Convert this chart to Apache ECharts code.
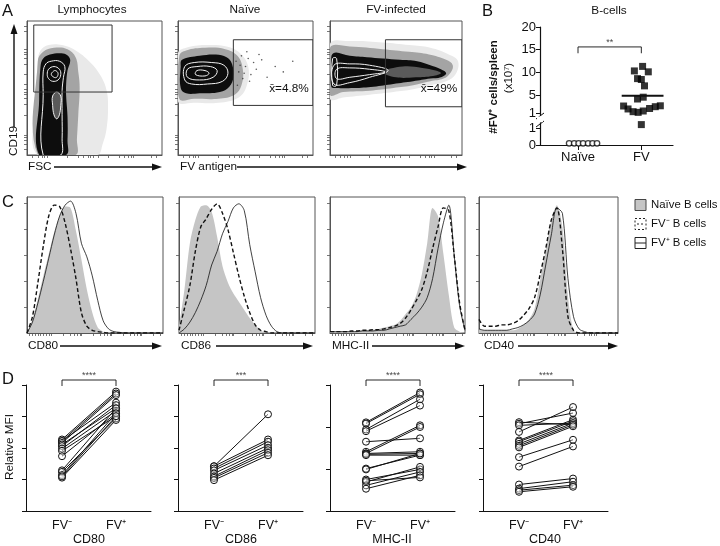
<!DOCTYPE html>
<html><head><meta charset="utf-8">
<script src="https://cdn.jsdelivr.net/npm/echarts@6/dist/echarts.min.js"></script>
<style>html,body{margin:0;padding:0;background:#fff}#c{width:720px;height:546px}</style>
</head><body><div id="c"></div>
<script>
// ================= DATA =================
// ---- Panel A: flow cytometry contour outlines (plot % coordinates) ----
const flowTitles = ['Lymphocytes', 'Naïve', 'FV-infected'];
const gateLabels = ['', 'x\u0304=4.8%', 'x\u0304=49%'];
const gates = [[5, 47, 63, 97], [41, 37, 100, 86], [42, 36, 100, 86]];
const lymSparse = [[8,0],[7,40],[8,70],[10,78],[16,82],[26,82],[36,78],[46,70],[54,60],[59,48],[60,35],[59,20],[56,8],[52,0]];
const lymDense  = [[8,0],[8,70],[12,77],[20,80],[30,79],[36,73],[38,62],[39,50],[38,30],[37,12],[36,0]];
const lymBlack  = [[9,0],[9,41],[10,66],[12,72],[17,75],[24,76],[29,75],[32,71],[30,63],[29,53],[29,44],[30,29],[30,11],[29,0]];
const lymCore   = [[19,37],[19,44],[22,47],[25,44],[25,37],[24,30],[22,27],[20,30]];
const lymLines  = [
  [[12,0],[12,45],[12,62],[14,68],[18,70],[24,70],[28,66],[27,58],[26,48],[26,30],[26,12],[25,0]],
  [[15,60],[16,64],[20,66],[24,64],[25,60],[23,56],[19,55],[16,57]],
  [[18,60],[19,62],[21,63],[23,61],[22,58],[20,58]],
  [[19,37],[19,44],[22,47],[25,44],[25,37],[24,30],[22,27],[20,30]]
];
const naiSparse = [[0,40],[0,76],[6,80],[20,82],[36,81],[46,76],[52,66],[51,52],[45,43],[30,39],[12,39]];
const naiDense  = [[1,42],[1,74],[6,78],[20,80],[35,79],[44,74],[48,64],[47,52],[42,45],[30,42],[12,42]];
const naiBlack  = [[2,50],[2,66],[3,71],[16,74],[28,75],[36,73],[40,68],[41,58],[38,51],[31,47],[16,46],[6,46]];
const naiLines  = [
  [[5,56],[5,66],[12,69],[25,69],[34,67],[37,61],[33,55],[22,53],[10,53]],
  [[7,58],[7,64],[14,66],[24,66],[29,63],[26,58],[16,56]],
  [[13,60],[14,63],[20,63],[23,61],[20,59]]
];
const naiDots = [[43,70],[45,62],[47,74],[48,57],[50,66],[52,72],[54,60],[56,69],[58,64],[62,71],[66,58],[72,66],[78,62],[85,70],[44,52],[46,67],[49,61],[51,77],[53,55],[60,75]];
const fvSparse = [[0,42],[0,83],[15,85],[40,84],[60,82],[76,80],[90,75],[97,70],[95,60],[88,55],[76,52],[63,49],[48,47],[30,45],[10,43]];
const fvDense  = [[0,45],[0,80],[15,81],[40,79],[60,77],[75,75],[88,71],[93,67],[91,61],[86,57],[76,55],[63,52],[48,50],[30,48],[10,47]];
const fvBlack  = [[1,51],[1,66],[2.5,76],[15,74],[28,73],[40,72],[53,71],[66,70],[76,67],[84,64],[88,61],[84,58],[76,57],[63,55],[48,53],[33,51],[18,50],[5,50]];
const fvCore   = [[40,62],[55,66],[70,65],[80,63],[84,61],[78,59],[65,58],[50,58]];
const fvLines  = [
  [[3,53],[3,67],[15,68],[30,67],[44,63],[30,58],[15,54]],
  [[5,57],[5,64],[15,65],[30,64],[42,62],[30,60],[15,58]],
  [[2,52],[2,72],[5,72],[5,52]]
];

// ---- Panel B: FV+ cells per spleen (x10^7) ----
const bCategories = ['Naïve', 'FV'];
const bUpperTicks = [1, 5, 10, 15, 20];
const bLowerTicks = [0, 1];
const naiveX = [-0.14, -0.06, 0.01, 0.08, 0.16, 0.23, 0.30];
const naiveV = [0.1, 0.1, 0.1, 0.1, 0.1, 0.1, 0.1];
const fvX = [-0.11, 0.02, 0.11, -0.06, 0.0, 0.05, -0.06, 0.03, -0.28, -0.21, -0.13, -0.05, 0.03, 0.13, 0.22, 0.30];
const fvV = [10.3, 11.3, 10.1, 8.6, 8.4, 7.0, 4.1, 4.5, 2.55, 1.9, 1.3, 1.15, 1.45, 2.0, 2.4, 2.6];
const fvLowX = [0.0];
const fvLowV = [1.2];
const fvMean = 4.8;
const bSig = '**';

// ---- Panel C: histograms (% of max) ----
const histX = [0,4,8,12,16,20,24,28,32,36,40,44,48,52,56,60,64,68,72,76,80,84,88,92,96,100];
const cNames = ['CD80', 'CD86', 'MHC-II', 'CD40'];
const cNaive = [
  [0,10,25,42,58,74,86,93,92,75,54,32,15,4,1,0,0,0,0,0,0,0,0,0,0,0],
  [5,32,66,83,93,94,89,71,49,37,29,23,17,11,6,2,0,0,0,0,0,0,0,0,0,0],
  [1,1,1,1,1,1.5,2,2,2.5,3,4,5,6,9,14,19,28,43,66,92,86,58,28,4,1,0],
  [3,2,2,2,2,2,2,3,6,10,18,39,61,83,94,78,27,2,0,0,0,0,0,0,0,0]
];
const cFvNeg = [
  [0,12,37,64,86,94,93,81,62,40,15,5,2,1,0.5,0,0,0,0,0,0,0,0,0,0,0],
  [2,18,35,60,78,84,91,95,88,76,59,42,27,15,6,2,1,0,0,0,0,0,0,0,0,0],
  [1,1,1,1,1.5,1.5,2,2,2.5,2.5,3,4,5,7,11,17,24,32,45,62,78,92,90,57,22,2],
  [10,5,5,5,6,6,7,9,13,18,26,43,62,83,92,62,12,2,0,0,0,0,0,0,0,0]
];
const cFvPos = [
  [0,8,22,38,55,72,86,94,97,88,66,56,42,24,9,3,1,0.5,0,0,0,0,0,0,0,0],
  [0,3,8,15,24,35,50,60,73,82,92,95,90,65,45,26,13,5,1,0,0,0,0,0,0,0],
  [1,1,1,1,1,1,1.5,1.5,1.5,2,2,3,4,5,6,10,14,19,26,40,62,81,94,57,20,2],
  [3,2,2,2,2,2,3,4,6,9,14,28,50,72,92,88,40,12,3,1,0,0,0,0,0,0]
];
const legendNames = ['Naïve B cells', 'FV\u207B B cells', 'FV\u207A B cells'];

// ---- Panel D: paired relative MFI ----
const dCategories = ['FV\u207B', 'FV\u207A'];
const dNames = ['CD80', 'CD86', 'MHC-II', 'CD40'];
const dMax = [4, 4, 3, 4];
const dSig = ['****', '***', '****', '****'];
const dNeg = [
  [2.27, 2.22, 2.22, 2.16, 2.11, 2.06, 1.98, 1.91, 1.74, 1.29, 1.24, 1.14, 1.06, 1.10],
  [1.42, 1.42, 1.35, 1.29, 1.19, 1.10, 1.05, 0.98],
  [2.11, 2.08, 1.94, 1.90, 1.65, 1.41, 1.37, 1.37, 1.35, 1.33, 1.01, 0.99, 0.75, 0.69, 0.61, 0.53, 0.72],
  [2.82, 2.77, 2.72, 2.51, 2.24, 2.20, 2.13, 2.07, 2.02, 1.71, 1.41, 0.84, 0.71, 0.66, 0.61]
];
const dPos = [
  [3.79, 3.73, 3.44, 3.68, 3.26, 3.36, 3.18, 3.01, 3.10, 3.26, 2.94, 3.10, 2.89, 3.01],
  [3.07, 2.27, 2.20, 2.09, 2.00, 1.93, 1.85, 1.77],
  [2.82, 2.78, 2.66, 2.51, 1.73, 2.04, 2.00, 1.41, 1.37, 1.33, 1.33, 1.37, 0.99, 1.05, 0.93, 0.85, 0.80],
  [2.74, 3.11, 2.79, 3.30, 2.90, 2.85, 2.79, 2.74, 2.69, 2.26, 2.05, 1.03, 0.93, 0.82, 0.77]
];

// ================= LAYOUT / STYLE =================
const FONT = '"Liberation Sans", Arial, Helvetica, sans-serif';
const INK = '#111';
const FRAME = '#555';

const grids = [
  {left: 27, top: 21, width: 135, height: 134, show: true, borderColor: FRAME, borderWidth: 1},   // 0 A1
  {left: 178, top: 21, width: 135, height: 134, show: true, borderColor: FRAME, borderWidth: 1},  // 1 A2
  {left: 330, top: 21, width: 132, height: 134, show: true, borderColor: FRAME, borderWidth: 1},  // 2 A3
  {left: 540, top: 27, width: 133, height: 88.3},     // 3 B upper
  {left: 540, top: 122.9, width: 133, height: 22.1},  // 4 B lower
  {left: 27, top: 197, width: 136, height: 136, show: true, borderColor: FRAME, borderWidth: 1},  // 5 C1
  {left: 179, top: 197, width: 136, height: 136, show: true, borderColor: FRAME, borderWidth: 1}, // 6 C2
  {left: 330, top: 197, width: 135, height: 136, show: true, borderColor: FRAME, borderWidth: 1}, // 7 C3
  {left: 479, top: 197, width: 139, height: 136, show: true, borderColor: FRAME, borderWidth: 1}, // 8 C4
  {left: 26, top: 385, width: 125, height: 126},   // 9 D1
  {left: 178, top: 385, width: 125, height: 126},  // 10 D2
  {left: 330, top: 385, width: 125, height: 126},  // 11 D3
  {left: 483, top: 385, width: 125, height: 126}   // 12 D4
];

const xAxes = [], yAxes = [], series = [];
const aTicks = [4, 8, 11, 13, 15, 30, 38, 42, 45, 47, 49, 53, 60, 68, 72, 75, 77, 79, 92, 96];
const cxTicks = [2, 4, 6, 8, 10, 12, 14, 16, 18, 27, 32, 35, 37, 39, 40, 49, 54, 57, 59, 61, 62, 71, 76, 79, 81, 83, 84, 93, 98];
const cyTicks = [19.1, 38.2, 57.3, 76.4, 95.5];

function frameAxis(gi, ticks) {
  return {gridIndex: gi, type: 'value', min: 0, max: 100,
    axisLine: {show: true, onZero: false, lineStyle: {color: FRAME, width: 1}},
    axisTick: {show: true, length: 3, customValues: ticks, lineStyle: {color: FRAME, width: 0.8}},
    axisLabel: {show: false}, splitLine: {show: false}};
}
function polySeries(gi, polys, style, smooth) {
  return {type: 'custom', coordinateSystem: 'cartesian2d', xAxisIndex: gi, yAxisIndex: gi,
    silent: true, clip: true,
    data: polys.map(p => [p[0][0], p[0][1]]),
    renderItem: function (params, api) {
      const pts = polys[params.dataIndex].map(q => api.coord(q));
      return {type: 'polygon', shape: {points: pts, smooth: smooth}, style: Object.assign({}, style)};
    }};
}

// ---- Panel A ----
const flowLayers = [
  {sparse: lymSparse, dense: lymDense, black: lymBlack, core: lymCore, lines: lymLines},
  {sparse: naiSparse, dense: naiDense, black: naiBlack, core: null, lines: naiLines},
  {sparse: fvSparse, dense: fvDense, black: fvBlack, core: fvCore, lines: fvLines}
];
flowLayers.forEach((L, gi) => {
  xAxes.push(frameAxis(gi, aTicks));
  yAxes.push(frameAxis(gi, aTicks));
  series.push(polySeries(gi, [L.sparse], {fill: '#e9e9e9'}, 0.4));
  series.push(polySeries(gi, [L.dense], {fill: '#a4a4a4'}, 0.4));
  series.push(polySeries(gi, [L.black], {fill: '#0d0d0d'}, 0.4));
  if (L.core) series.push(polySeries(gi, [L.core], {fill: '#5a5a5a'}, 0.4));
  series.push(polySeries(gi, L.lines, {fill: 'none', stroke: '#f2f2f2', lineWidth: 1}, 0.4));
  const g = gates[gi];
  series.push(polySeries(gi, [[[g[0], g[1]], [g[2], g[1]], [g[2], g[3]], [g[0], g[3]]]],
    {fill: 'none', stroke: '#333', lineWidth: 1}, 0));
});
series.push({type: 'scatter', xAxisIndex: 1, yAxisIndex: 1, data: naiDots, symbolSize: 1.6,
  itemStyle: {color: '#333'}, silent: true});

// ---- Panel B ----
const bLabel = {fontFamily: FONT, fontSize: 13, color: INK};
xAxes.push({gridIndex: 3, type: 'value', min: -0.6, max: 1.5, show: false});
yAxes.push({gridIndex: 3, type: 'value', min: 0.5, max: 20,
  axisLine: {show: true, onZero: false, lineStyle: {color: INK, width: 1.2}},
  axisTick: {show: true, length: 4, customValues: bUpperTicks, lineStyle: {color: INK}},
  axisLabel: Object.assign({customValues: bUpperTicks, margin: 4}, bLabel),
  splitLine: {show: false}});
xAxes.push({gridIndex: 4, type: 'value', min: -0.6, max: 1.5,
  axisLine: {show: true, onZero: false, lineStyle: {color: INK, width: 1.2}},
  axisTick: {show: true, length: 5, customValues: [0, 1], lineStyle: {color: INK}},
  axisLabel: Object.assign({customValues: [0, 1], margin: 6, formatter: v => bCategories[Math.round(v)]}, bLabel),
  splitLine: {show: false}});
yAxes.push({gridIndex: 4, type: 'value', min: 0, max: 1.3,
  axisLine: {show: true, onZero: false, lineStyle: {color: INK, width: 1.2}},
  axisTick: {show: true, length: 4, customValues: bLowerTicks, lineStyle: {color: INK}},
  axisLabel: Object.assign({customValues: bLowerTicks, margin: 4}, bLabel),
  splitLine: {show: false}});
series.push({type: 'scatter', xAxisIndex: 4, yAxisIndex: 4, symbol: 'circle', symbolSize: 5.5,
  data: naiveX.map((x, i) => [x, naiveV[i]]),
  itemStyle: {color: '#fff', borderColor: INK, borderWidth: 1.3}, silent: true});
series.push({type: 'scatter', xAxisIndex: 3, yAxisIndex: 3, symbol: 'rect', symbolSize: 7,
  data: fvX.map((x, i) => [1 + x, fvV[i]]), itemStyle: {color: '#000'}, silent: true});
series.push({type: 'scatter', xAxisIndex: 4, yAxisIndex: 4, symbol: 'rect', symbolSize: 7,
  data: fvLowX.map((x, i) => [1 + x, fvLowV[i]]), itemStyle: {color: '#000'}, silent: true, clip: false});
series.push({type: 'line', xAxisIndex: 3, yAxisIndex: 3, data: [[0.69, fvMean], [1.35, fvMean]],
  symbol: 'none', lineStyle: {color: INK, width: 2}, silent: true});
series.push({type: 'line', xAxisIndex: 3, yAxisIndex: 3, clip: false,
  data: [[0, 14.2], [0, 15.6], [1, 15.6], [1, 14.2]], symbol: 'none',
  lineStyle: {color: INK, width: 0.9}, silent: true});
series.push({type: 'scatter', xAxisIndex: 3, yAxisIndex: 3, data: [[0.5, 15.6]], symbolSize: 0,
  label: {show: true, position: 'top', distance: 0, formatter: bSig, fontFamily: FONT, fontSize: 9, color: INK},
  silent: true, clip: false});

// ---- Panel C ----
for (let k = 0; k < 4; k++) {
  const gi = 5 + k;
  xAxes.push(frameAxis(gi, cxTicks));
  yAxes.push(frameAxis(gi, cyTicks));
  const mk = arr => histX.map((x, i) => [x, arr[i]]);
  series.push({type: 'line', xAxisIndex: gi, yAxisIndex: gi, data: mk(cNaive[k]), smooth: 0.3,
    symbol: 'none', lineStyle: {width: 0}, areaStyle: {color: '#c5c5c5', opacity: 1}, silent: true, z: 2});
  series.push({type: 'line', xAxisIndex: gi, yAxisIndex: gi, data: mk(cFvNeg[k]), smooth: 0.3,
    symbol: 'none', lineStyle: {color: INK, width: 1.4, type: [4, 2.5]}, silent: true, z: 3});
  series.push({type: 'line', xAxisIndex: gi, yAxisIndex: gi, data: mk(cFvPos[k]), smooth: 0.3,
    symbol: 'none', lineStyle: {color: INK, width: 0.8}, silent: true, z: 4});
}

// ---- Panel D ----
for (let k = 0; k < 4; k++) {
  const gi = 9 + k;
  xAxes.push({gridIndex: gi, type: 'value', min: -0.667, max: 1.648,
    axisLine: {show: true, onZero: false, lineStyle: {color: INK, width: 1}},
    axisTick: {show: false},
    axisLabel: {customValues: [0, 1], margin: 8, fontFamily: FONT, fontSize: 12.5, color: INK,
      formatter: v => dCategories[Math.round(v)]},
    splitLine: {show: false}});
  yAxes.push({gridIndex: gi, type: 'value', min: 0, max: dMax[k], interval: 1,
    axisLine: {show: true, onZero: false, lineStyle: {color: INK, width: 1}},
    axisTick: {show: true, length: 4, lineStyle: {color: INK}},
    axisLabel: {show: false}, splitLine: {show: false}});
  dNeg[k].forEach((v, i) => {
    series.push({type: 'line', xAxisIndex: gi, yAxisIndex: gi, data: [[0, v], [1, dPos[k][i]]],
      symbol: 'circle', symbolSize: 7, silent: true,
      lineStyle: {color: INK, width: 1},
      itemStyle: {color: 'rgba(255,255,255,0.35)', borderColor: INK, borderWidth: 1}});
  });
  const top = dMax[k] + (k === 2 ? 5 / 42 : 5 / 31.5);
  const low = dMax[k] - (k === 2 ? 1 / 42 : 1 / 31.5);
  series.push({type: 'line', xAxisIndex: gi, yAxisIndex: gi, clip: false,
    data: [[0, low], [0, top], [1, top], [1, low]], symbol: 'none',
    lineStyle: {color: INK, width: 0.9}, silent: true});
  series.push({type: 'scatter', xAxisIndex: gi, yAxisIndex: gi, data: [[0.5, top]], symbolSize: 0,
    label: {show: true, position: 'top', distance: 0, formatter: dSig[k], fontFamily: FONT, fontSize: 9, color: INK},
    silent: true, clip: false});
}

// ================= GRAPHIC TEXT & DECORATION =================
const G = [];
function txt(x, y, text, size, align, rot, weight) {
  G.push({type: 'text', x: x, y: y, rotation: rot || 0, silent: true, z: 100,
    style: {text: text, fontFamily: FONT, fontSize: size, fontWeight: weight || 'normal', fill: INK,
      textAlign: align || 'left', textVerticalAlign: 'middle'}});
}
function arrowH(x1, x2, y) {
  G.push({type: 'line', silent: true, shape: {x1: x1, y1: y, x2: x2 - 6, y2: y}, style: {stroke: INK, lineWidth: 1.4}});
  G.push({type: 'polygon', silent: true, shape: {points: [[x2 - 10, y - 3.5], [x2, y], [x2 - 10, y + 3.5]]}, style: {fill: INK}});
}
function arrowV(x, y1, y2) {
  G.push({type: 'line', silent: true, shape: {x1: x, y1: y1, x2: x, y2: y2 + 6}, style: {stroke: INK, lineWidth: 1.4}});
  G.push({type: 'polygon', silent: true, shape: {points: [[x - 3.5, y2 + 10], [x, y2], [x + 3.5, y2 + 10]]}, style: {fill: INK}});
}
// panel letters
txt(2, 11, 'A', 16.5); txt(482, 11, 'B', 16.5); txt(2, 202, 'C', 16.5); txt(2, 379, 'D', 16.5);
// A titles
txt(92, 10, flowTitles[0], 11.8, 'center');
txt(245, 10, flowTitles[1], 11.8, 'center');
txt(396, 10, flowTitles[2], 11.8, 'center');
txt(289, 89, gateLabels[1], 11.8, 'center');
txt(439, 89, gateLabels[2], 11.8, 'center');
// A axes
txt(14, 141, 'CD19', 11.8, 'center', Math.PI / 2);
arrowV(14, 127, 24);
txt(28, 167, 'FSC', 11.8, 'left');
arrowH(54, 162, 167);
txt(180, 167, 'FV antigen', 11.8, 'left');
arrowH(237, 467, 167);
// B
txt(609, 11, 'B-cells', 11.8, 'center');
txt(494, 87, '#FV\u207A cells/spleen', 11.5, 'center', Math.PI / 2, 'bold');
txt(509, 78, '(x10\u2077)', 11.5, 'center', Math.PI / 2);
G.push({type: 'line', silent: true, shape: {x1: 536, y1: 119, x2: 544, y2: 113}, style: {stroke: INK, lineWidth: 1}});
G.push({type: 'line', silent: true, shape: {x1: 536, y1: 127, x2: 544, y2: 121}, style: {stroke: INK, lineWidth: 1}});
G.push({type: 'rect', silent: true, shape: {x: 537, y: 116.5, width: 6, height: 5.5}, style: {fill: '#fff'}});
// C axis arrows
const cArrow = [[28, 60, 162], [181, 216, 313], [332, 372, 465], [484, 518, 618]];
cArrow.forEach((a, k) => { txt(a[0], 346, cNames[k], 11.8, 'left'); arrowH(a[1], a[2], 346); });
// legend
G.push({type: 'rect', silent: true, shape: {x: 635, y: 199.5, width: 11, height: 11}, style: {fill: '#c5c5c5', stroke: '#444', lineWidth: 1}});
G.push({type: 'rect', silent: true, shape: {x: 635, y: 218.5, width: 11, height: 11}, style: {fill: '#fff', stroke: '#222', lineWidth: 1, lineDash: [2, 2]}});
G.push({type: 'line', silent: true, shape: {x1: 637, y1: 224, x2: 644, y2: 224}, style: {stroke: '#222', lineWidth: 1, lineDash: [2, 2]}});
G.push({type: 'rect', silent: true, shape: {x: 635, y: 237.5, width: 11, height: 11}, style: {fill: '#fff', stroke: '#222', lineWidth: 1}});
G.push({type: 'line', silent: true, shape: {x1: 635, y1: 243, x2: 646, y2: 243}, style: {stroke: '#222', lineWidth: 1}});
txt(651, 205, legendNames[0], 11.4); txt(651, 224, legendNames[1], 11.4); txt(651, 243, legendNames[2], 11.4);
// D labels
txt(10, 447, 'Relative MFI', 11.8, 'center', Math.PI / 2);
const dCenters = [89, 241, 392, 545];
dCenters.forEach((c, k) => txt(c, 540, dNames[k], 12.5, 'center'));

const chart = echarts.init(document.getElementById('c'));
chart.setOption({
  animation: false,
  backgroundColor: '#fff',
  textStyle: {fontFamily: FONT},
  grid: grids,
  xAxis: xAxes,
  yAxis: yAxes,
  series: series,
  graphic: {elements: G}
});
</script>
</body></html>
